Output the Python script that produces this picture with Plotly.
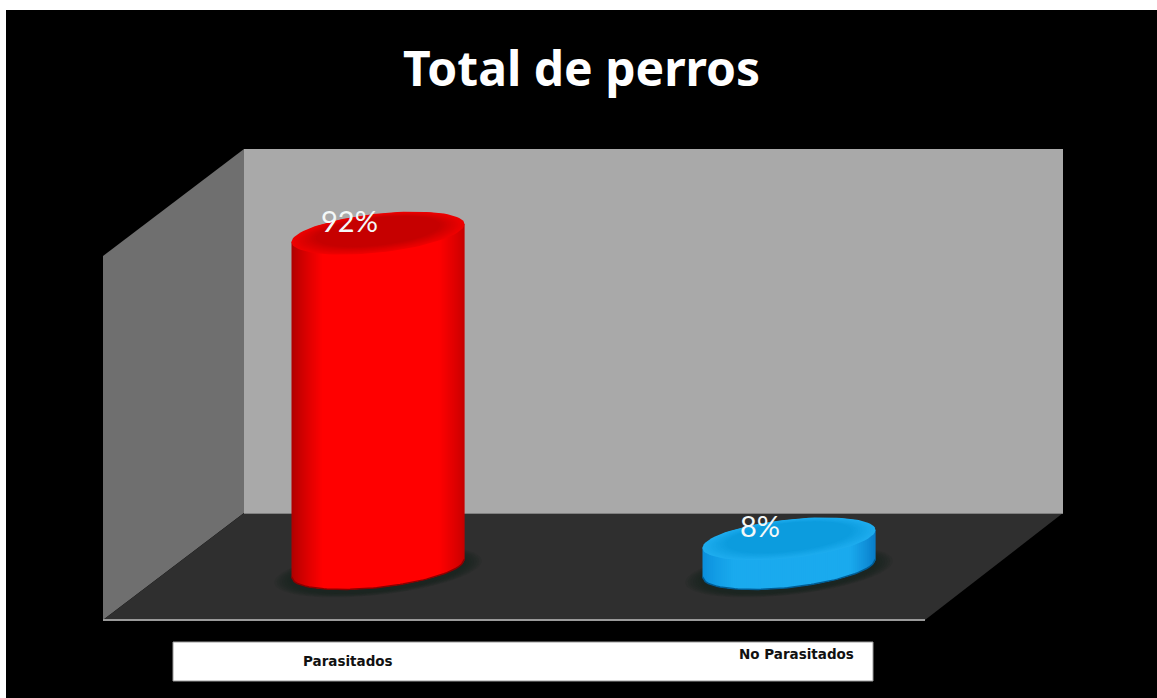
import numpy as np
import plotly.graph_objects as go

# Chart content
chart_title = "Total de perros"
categories = ["Parasitados", "No Parasitados"]
percentages = [92, 8]
value_labels = ["92%", "8%"]

# Styling per category
body_edges = [((172, 0, 0), (255, 0, 0), (196, 0, 0)),
              ((10, 142, 220), (26, 170, 238), (8, 122, 200))]
cap_colours = [((238, 0, 0), (198, 0, 0)), ((30, 172, 238), (12, 156, 222))]
rim_colours = ["#8a0000", "#005c94"]

# Scale of the axes: pixels per category step and per percentage point
STEP = 411.0
UNIT = 3.64
ORIGIN_X = 378.0
ORIGIN_Y = 568.0
LEFT, TOP, RIGHT, BOTTOM = 6, 10, 1157, 698


def cx(px):
    return (px - ORIGIN_X) / STEP


def vy(px):
    return (ORIGIN_Y - px) / UNIT


def rgb(c):
    return "rgb(%d,%d,%d)" % tuple(int(round(k)) for k in c)


def mix(a, b, t):
    return tuple(a[i] + (b[i] - a[i]) * t for i in range(3))


fig = go.Figure()


def polygon(xs, ys, colour, opacity=1.0):
    fig.add_trace(go.Scatter(x=xs, y=ys, mode="lines", fill="toself", fillcolor=colour,
                             line=dict(width=0), opacity=opacity,
                             hoverinfo="skip", showlegend=False))


def outline(xs, ys, colour, width):
    fig.add_trace(go.Scatter(x=xs, y=ys, mode="lines", line=dict(color=colour, width=width),
                             hoverinfo="skip", showlegend=False))


def px_polygon(points, colour):
    polygon([cx(p[0]) for p in points], [vy(p[1]) for p in points], colour)


# Box of the chart: back wall, side wall and floor in oblique projection
px_polygon([(244, 149), (1063, 149), (1063, 513), (244, 513)], "#a9a9a9")
px_polygon([(103, 256), (244, 149), (244, 513), (103, 620)], "#6f6f6f")
px_polygon([(244, 513), (1063, 513), (925, 620), (103, 620)], "#2f2f2f")
outline([cx(244), cx(1063)], [vy(513.5), vy(513.5)], "#808080", 1)
outline([cx(103), cx(925)], [vy(620), vy(620)], "#9a9a9a", 2)

# Strip holding the category names
px_polygon([(173, 642), (873, 642), (873, 681), (173, 681)], "#ffffff")
outline([cx(173), cx(873), cx(873), cx(173), cx(173)],
        [vy(642), vy(642), vy(681), vy(681), vy(642)], "#9a9a9a", 1)

RX = 86.5 / STEP
RY = 19.5 / UNIT
TILT = 9.0 / UNIT


def ellipse(c, v, scale=1.0, lift=0.0):
    t = np.linspace(0, 2 * np.pi, 90)
    return (c + RX * scale * np.cos(t),
            v + lift + TILT * scale * np.cos(t) + RY * scale * np.sin(t))


for i, value in enumerate(percentages):
    # Soft shadow on the floor
    for s in np.linspace(1.2, 1.02, 7):
        xs, ys = ellipse(i, 0, s, -1.0)
        polygon(xs.tolist(), ys.tolist(), "#14201f", 0.14)

    # Body built from narrow vertical strips for the curved shading
    left, mid, right = body_edges[i]
    edges = np.linspace(-1, 1, 87)
    for a, b in zip(edges[:-1], edges[1:]):
        u = (a + b) / 2
        if u < 0:
            colour = mix(left, mid, min(1.0, (u + 1) / 0.36) ** 0.8)
        else:
            colour = mix(right, mid, min(1.0, (1 - u) / 0.3) ** 0.8)
        end = min(1.0, b + 0.02)
        us = np.linspace(a, end, 4)
        low = TILT * us - RY * np.sqrt(1 - us ** 2)
        xs = np.concatenate([i + RX * us, [i + RX * end, i + RX * a]])
        ys = np.concatenate([low, [value + TILT * end, value + TILT * a]])
        polygon(xs.tolist(), ys.tolist(), rgb(colour))

    # Darker rim along the foot of the body
    us = np.linspace(-1, 1, 60)
    outline((i + RX * us).tolist(),
            (TILT * us - RY * np.sqrt(1 - us ** 2)).tolist(), rim_colours[i], 1.5)

    # Cap: concentric ellipses from the bright edge to the darker middle
    outer, inner = cap_colours[i]
    for k, s in enumerate(np.linspace(1.0, 0.72, 12)):
        xs, ys = ellipse(i, value, s, (1 - s) * 1.6)
        polygon(xs.tolist(), ys.tolist(), rgb(mix(outer, inner, k / 11)))

annotations = [
    dict(x=0.5, y=1, xref="paper", yref="paper", xanchor="center", yanchor="middle",
         yshift=-57, xshift=0, text="<b>%s</b>" % chart_title, showarrow=False,
         font=dict(family="Noto Sans", size=48, color="#ffffff")),
]
for i, value in enumerate(percentages):
    annotations.append(dict(x=i - 29 / STEP, y=value + 13 / UNIT, text=value_labels[i],
                            xref="x", yref="y", showarrow=False,
                            font=dict(family="Lato", size=29, color="#f4f8f8")))

label_x = [348, 796]
label_y = [661, 654]
for i, name in enumerate(categories):
    annotations.append(dict(x=cx(label_x[i]), y=vy(label_y[i]), text="<b>%s</b>" % name,
                            xref="x", yref="y", showarrow=False,
                            font=dict(family="DejaVu Sans", size=13.5, color="#111111")))

fig.update_layout(
    width=1157, height=698, autosize=False,
    margin=dict(l=LEFT, t=TOP, r=RIGHT - 1157, b=698 - BOTTOM, pad=0),
    paper_bgcolor="#ffffff", plot_bgcolor="#000000",
    showlegend=False, annotations=annotations,
    xaxis=dict(range=[cx(LEFT), cx(RIGHT)], visible=False, fixedrange=True),
    yaxis=dict(range=[vy(BOTTOM), vy(TOP)], visible=False, fixedrange=True),
)

fig.write_html("out.html", config=dict(displayModeBar=False))
